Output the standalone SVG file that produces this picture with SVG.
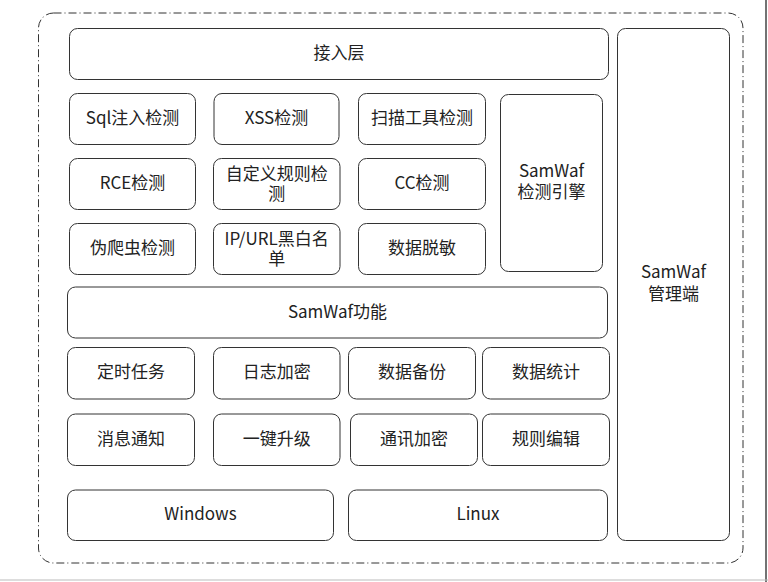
<svg xmlns="http://www.w3.org/2000/svg" width="768" height="582" viewBox="0 0 768 582">
<style>
.b{fill:#fff;stroke:#333;stroke-width:1}
.t{font-family:"Noto Sans CJK SC","Noto Sans",sans-serif;font-size:17px;fill:#222;text-anchor:middle;dominant-baseline:central}
</style>
<rect width="768" height="582" fill="#fff"/>
<line x1="766" y1="0" x2="766" y2="582" stroke="#444" stroke-width="1.5"/>
<line x1="0" y1="580" x2="768" y2="580" stroke="#bbb" stroke-width="1"/>
<g id="frame"><rect x="38.5" y="13" width="704.5" height="550" rx="15" fill="none" stroke="#333" stroke-width="1" stroke-dasharray="8,3,1,3"/></g>
<g id="access"><rect class="b" x="69.5" y="28.5" width="539" height="51" rx="8"/><text class="t" x="339" y="51">接入层</text></g>
<g id="mgmt"><rect class="b" x="617.5" y="28.5" width="112" height="512" rx="8"/><text class="t" x="673.5" y="270">SamWaf</text><text class="t" x="673.5" y="292">管理端</text></g>
<g id="engine"><rect class="b" x="500.5" y="94.5" width="102" height="177" rx="8"/><text class="t" x="551.5" y="169">SamWaf</text><text class="t" x="551.5" y="190">检测引擎</text></g>
<g id="sql"><rect class="b" x="69.5" y="93.5" width="126" height="51" rx="8"/><text class="t" x="132.5" y="116">Sql注入检测</text></g>
<g id="xss"><rect class="b" x="214" y="93.5" width="125" height="51" rx="8"/><text class="t" x="276.5" y="116">XSS检测</text></g>
<g id="scan"><rect class="b" x="358.5" y="93.5" width="127" height="51" rx="8"/><text class="t" x="422" y="116">扫描工具检测</text></g>
<g id="rce"><rect class="b" x="69.5" y="158.5" width="126" height="51" rx="8"/><text class="t" x="132.5" y="181">RCE检测</text></g>
<g id="custom"><rect class="b" x="213.5" y="158.5" width="126.5" height="51" rx="8"/><text class="t" x="276.7" y="172">自定义规则检</text><text class="t" x="276.7" y="192">测</text></g>
<g id="cc"><rect class="b" x="358.5" y="158.5" width="127" height="51" rx="8"/><text class="t" x="422" y="181">CC检测</text></g>
<g id="crawler"><rect class="b" x="69.5" y="223.5" width="126" height="51" rx="8"/><text class="t" x="132.5" y="246">伪爬虫检测</text></g>
<g id="ipurl"><rect class="b" x="213.5" y="223.5" width="126.5" height="51" rx="8"/><text class="t" x="276.7" y="237">IP/URL黑白名</text><text class="t" x="276.7" y="257">单</text></g>
<g id="mask"><rect class="b" x="358.5" y="223.5" width="127" height="51" rx="8"/><text class="t" x="422" y="246">数据脱敏</text></g>
<g id="func"><rect class="b" x="67.5" y="287" width="540" height="51" rx="8"/><text class="t" x="337.5" y="310">SamWaf功能</text></g>
<g id="timer"><rect class="b" x="67.5" y="347.5" width="127" height="51.5" rx="8"/><text class="t" x="131" y="370.5">定时任务</text></g>
<g id="logenc"><rect class="b" x="213.5" y="347.5" width="126.5" height="51.5" rx="8"/><text class="t" x="276.7" y="370.5">日志加密</text></g>
<g id="backup"><rect class="b" x="348.5" y="347.5" width="127" height="51.5" rx="8"/><text class="t" x="412" y="370.5">数据备份</text></g>
<g id="stats"><rect class="b" x="482.5" y="347.5" width="127" height="51.5" rx="8"/><text class="t" x="546" y="370.5">数据统计</text></g>
<g id="notify"><rect class="b" x="67.5" y="414" width="127" height="51.5" rx="8"/><text class="t" x="131" y="437">消息通知</text></g>
<g id="upgrade"><rect class="b" x="213.5" y="414" width="126.5" height="51.5" rx="8"/><text class="t" x="276.7" y="437">一键升级</text></g>
<g id="commenc"><rect class="b" x="350.5" y="414" width="127" height="51.5" rx="8"/><text class="t" x="414" y="437">通讯加密</text></g>
<g id="ruleedit"><rect class="b" x="482.5" y="414" width="127" height="51.5" rx="8"/><text class="t" x="546" y="437">规则编辑</text></g>
<g id="windows"><rect class="b" x="67.5" y="490" width="266" height="50.5" rx="8"/><text class="t" x="200.5" y="512.5">Windows</text></g>
<g id="linux"><rect class="b" x="348.5" y="490" width="259" height="50.5" rx="8"/><text class="t" x="478" y="512.5">Linux</text></g>
<g id="connectors"></g>
</svg>
